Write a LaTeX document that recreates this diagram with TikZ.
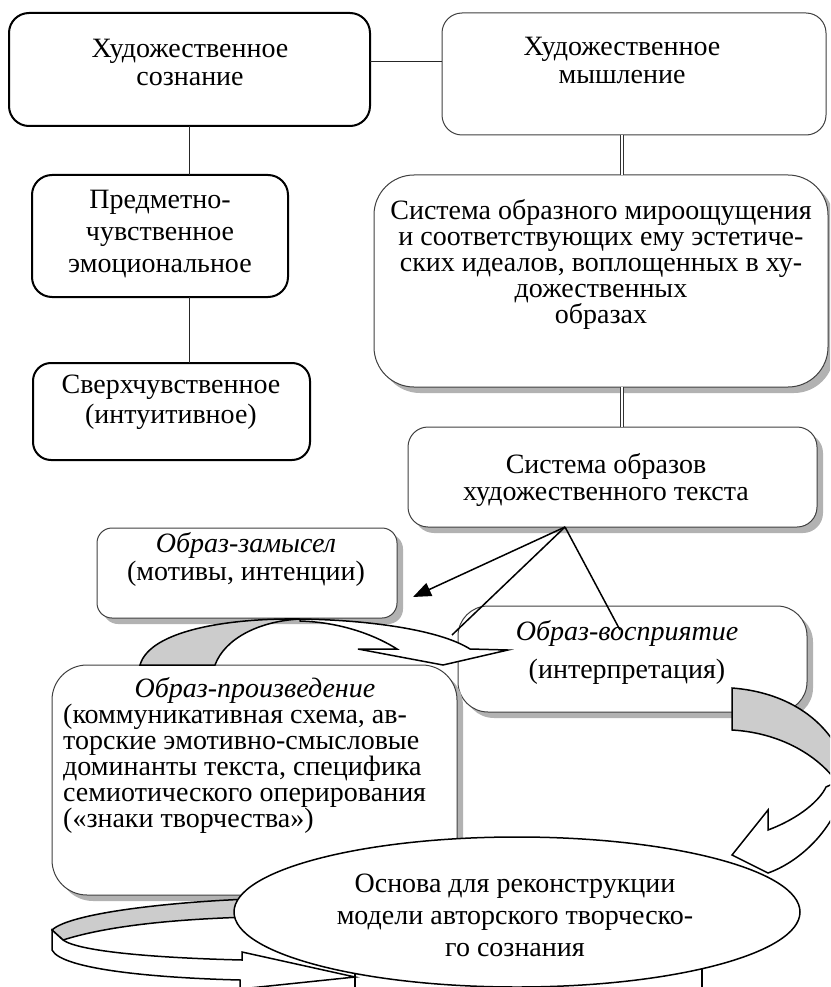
\documentclass[tikz,border=0pt]{standalone}
\usepackage{fontspec}
\setmainfont{Liberation Serif}
\usetikzlibrary{arrows.meta,shadows,shapes.geometric}
\begin{document}
\begin{tikzpicture}[x=1pt,y=-1pt,
  thickbox/.style={draw=black, line width=2pt, rounded corners=20pt, fill=white, inner sep=0pt, outer sep=0pt},
  thinbox/.style={draw=black!75, line width=1pt, fill=white, inner sep=0pt, outer sep=0pt},
  shad/.style={general shadow={fill=black!30, shadow xshift=6pt, shadow yshift=-6pt}},
  txt/.style={inner sep=0pt, anchor=base, font=\fontsize{28}{30}\selectfont},
  itxt/.style={inner sep=0pt, anchor=base, font=\fontsize{28}{30}\selectfont\itshape},
  ltxt/.style={inner sep=0pt, anchor=base west, font=\fontsize{28}{30}\selectfont},
  link/.style={draw=black!85, line width=1pt},
  dlink/.style={draw=black!80, double=white, double distance=2pt, line width=0.8pt},
  ribbon/.style={draw=black, line width=1.5pt, line join=miter},
  ray/.style={draw=black, line width=1.5pt}]
\useasboundingbox (0,0) rectangle (830,987);
\clip (0,0) rectangle (830,987);

% boxes
\node[thickbox, minimum width=361pt, minimum height=113pt] (A) at (189.5,69.5) {};
\node[thinbox, rounded corners=20pt, minimum width=384pt, minimum height=122pt] (B) at (634,74) {};
\node[thickbox, minimum width=256pt, minimum height=122pt] (C) at (160,236) {};
\node[thickbox, rounded corners=18pt, minimum width=277pt, minimum height=97pt] (D) at (171.5,411.5) {};
\node[thinbox, shad, rounded corners=40pt, minimum width=454pt, minimum height=212pt] (E) at (601,281) {};
\node[thinbox, shad, rounded corners=20pt, minimum width=409pt, minimum height=100pt] (F) at (612.5,477) {};
\node[thinbox, shad, rounded corners=15pt, minimum width=300pt, minimum height=90pt] (G) at (247,573) {};
\node[thinbox, shad, rounded corners=30pt, minimum width=349pt, minimum height=106pt] (H) at (632.5,659) {};
\node[thinbox, shad, rounded corners=35pt, minimum width=405pt, minimum height=230pt] (I) at (254.5,780) {};
\node[draw=black, line width=1.2pt, fill=white, inner sep=0pt, minimum width=347pt, minimum height=60pt] (J) at (528.5,985) {};

% texts
\node[txt] (tA1) at (190,58) {Художественное};
\node[txt] (tA2) at (190,86) {сознание};
\node[txt] (tB1) at (622,56) {Художественное};
\node[txt] (tB2) at (622,84) {мышление};
\node[txt] (tC1) at (160,208) {Предметно-};
\node[txt] (tC2) at (160,240) {чувственное};
\node[txt] (tC3) at (160,272) {эмоциональное};
\node[txt] (tD1) at (171,393) {Сверхчувственное};
\node[txt] (tD2) at (171,423) {(интуитивное)};
\node[txt] (tE1) at (601,219) {Система образного мироощущения};
\node[txt] (tE2) at (601,245) {и соответствующих ему эстетиче-};
\node[txt] (tE3) at (601,271) {ских идеалов, воплощенных в ху-};
\node[txt] (tE4) at (601,297) {дожественных};
\node[txt] (tE5) at (601,323) {образах};
\node[txt] (tF1) at (606,473) {Система образов};
\node[txt] (tF2) at (606,500) {художественного текста};
\node[itxt] (tG1) at (246,552) {Образ-замысел};
\node[txt] (tG2) at (246,580) {(мотивы, интенции)};
\node[itxt] (tH1) at (627,640) {Образ-восприятие};
\node[txt] (tH2) at (627,678) {(интерпретация)};
\node[itxt] (tI1) at (255,697) {Образ-произведение};
\node[ltxt] (tI2) at (63,723) {(коммуникативная схема, ав-};
\node[ltxt] (tI3) at (63,749) {торские эмотивно-смысловые};
\node[ltxt] (tI4) at (63,775) {доминанты текста, специфика};
\node[ltxt] (tI5) at (63,801) {семиотического оперирования};
\node[ltxt] (tI6) at (63,827) {(«знаки творчества»)};

% right curved arrow (under ellipse)
\path[ribbon, fill=black!20] (732,688) .. controls (785,692) and (825,718) .. (842,757) -- (842,790) .. controls (825,760) and (785,733) .. (732,730) -- cycle;
\path[ribbon, fill=white] (845,778) .. controls (842,820) and (805,860) .. (768,873) -- (732,855) -- (768,810) -- (768,830) .. controls (800,818) and (820,800) .. (826,787) -- cycle;
% bottom-left curved arrow
\path[ribbon, fill=black!20] (250,899) .. controls (170,902) and (70,913) .. (52,930) -- (63,940) .. controls (110,925) and (180,919) .. (250,917) -- cycle;
\path[ribbon, fill=white] (52,930) -- (52,950) .. controls (62,970) and (160,978) .. (240,980) -- (240,989) -- (355,977) -- (242,952) -- (242,960) .. controls (160,958) and (80,952) .. (63,940) -- cycle;

% ellipse
\node[ellipse, draw=black, line width=1.5pt, fill=white, inner sep=0pt, minimum width=566pt, minimum height=150pt] (K) at (517,912) {};
\node[txt] (tK1) at (515,892) {Основа для реконструкции};
\node[txt] (tK2) at (515,924) {модели авторского творческо-};
\node[txt] (tK3) at (515,956) {го сознания};

% top curved arrow
\path[ribbon, fill=black!20] (140,665) .. controls (150,630) and (230,618) .. (300,619) .. controls (260,621) and (225,638) .. (215,665) -- cycle;
\path[ribbon, fill=white] (300,619) .. controls (370,620) and (440,630) .. (470,649) -- (508,650) -- (443,665) -- (358,649) -- (397,649) .. controls (370,632) and (335,622) .. (300,621) -- cycle;

% connectors
\draw[link] ([yshift=7.5pt]A.east) -- ([yshift=7.5pt]A.east -| B.west);
\draw[link] (A.south) -- (A.south |- C.north);
\draw[link] (A.south |- C.south) -- (A.south |- D.north);
\coordinate (bx) at ([xshift=-12pt]B.south);
\draw[dlink] (bx) -- (bx |- E.north);
\draw[dlink] (bx |- E.south) -- (bx |- F.north);
\coordinate (apex) at ([xshift=-47.5pt]F.south);
\coordinate (gtip) at (413,597);
\coordinate (l2) at (452,635);
\coordinate (l3) at (620,630);
\draw[ray, -{Triangle[length=18pt,width=14pt]}] (apex) -- (gtip);
\draw[ray] (apex) -- (l2);
\draw[ray] (apex) -- (l3);
\end{tikzpicture}
\end{document}
